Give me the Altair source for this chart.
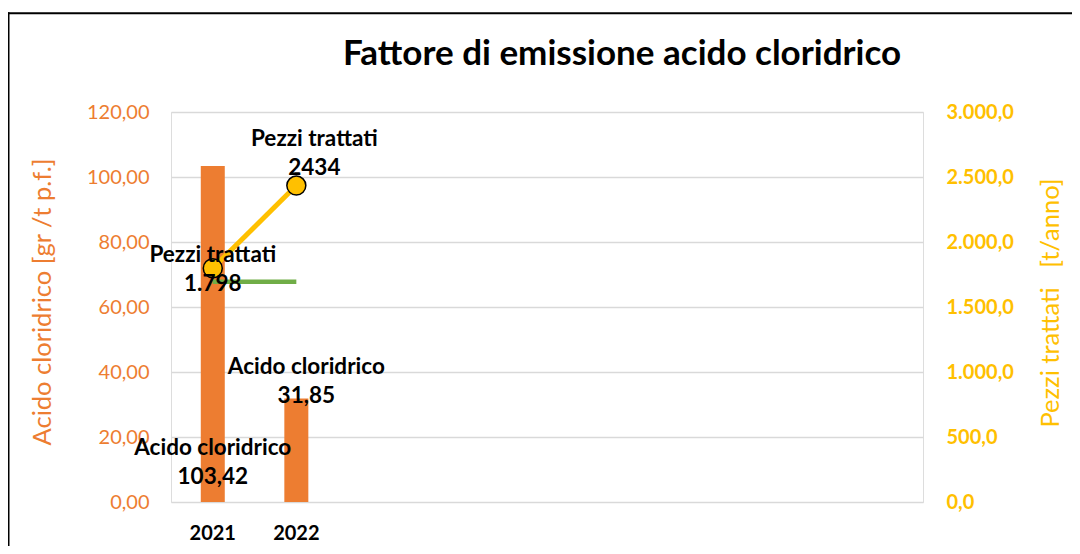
import altair as alt
import pandas as pd

# ---- data ----
years = ["2021", "2022"]
empty_slots = ["c3", "c4", "c5", "c6", "c7", "c8", "c9"]
acido = [103.42, 31.85]
acido_labels = ["103,42", "31,85"]
pezzi = [1798, 2434]
pezzi_labels = ["1.798", "2434"]
limite = [67.8, 67.8]
series_names = ["Acido cloridrico", "Pezzi trattati"]
left_ticks = [0, 20, 40, 60, 80, 100, 120]
right_ticks = [0, 500, 1000, 1500, 2000, 2500, 3000]

df = pd.DataFrame({
    "year": years,
    "acido": acido,
    "acido_text": [series_names[0] + "\n" + s for s in acido_labels],
    "pezzi": pezzi,
    "pezzi_text": [series_names[1] + "\n" + s for s in pezzi_labels],
    "limite": limite,
})

ORANGE = "#ED7D31"
YELLOW = "#FFC000"
GREEN = "#70AD47"
FONT = "Lato"

W, H = 752, 390

x_enc = alt.X(
    "year:N",
    scale=alt.Scale(domain=years + empty_slots, paddingInner=0, paddingOuter=0),
    axis=alt.Axis(
        labelExpr="indexof(datum.value, 'c') == 0 ? '' : datum.value",
        labelFontWeight="bold", labelFontSize=20, labelColor="black",
        labelFont=FONT, ticks=False, domain=False, grid=False,
        labelPadding=21, labelAngle=0,
    ),
    title=None,
)

left_scale = alt.Scale(domain=[0, 120])
right_scale = alt.Scale(domain=[0, 3000])

base = alt.Chart(df)

bars = base.mark_bar(color=ORANGE, size=24).encode(
    x=x_enc,
    y=alt.Y(
        "acido:Q", scale=left_scale,
        axis=alt.Axis(
            values=left_ticks, orient="left",
            labelExpr="replace(format(datum.value, '.2f'), '.', ',')",
            labelColor=ORANGE, labelFontSize=20, labelFont=FONT,
            labelPadding=22, ticks=False, domain=False,
            grid=True, gridColor="#D9D9D9", gridWidth=1.5,
            title="Acido cloridrico [gr /t p.f.]", titleColor=ORANGE,
            titleFontSize=25.5, titleFontWeight="normal", titleFont=FONT,
            titleAngle=270, titleX=-129, titleY=189.5,
            titleAlign="center", titleBaseline="middle",
        ),
    ),
)

green = base.mark_line(color=GREEN, strokeWidth=4.5).encode(
    x=x_enc, y=alt.Y("limite:Q", scale=left_scale)
)

txt_style = dict(font=FONT, fontSize=22.5, fontWeight="bold", color="black",
                 lineBreak="\n", lineHeight=29, align="center", baseline="middle")

acido_lbl_2021 = base.transform_filter(alt.datum.year == "2021").mark_text(
    dy=-54, **txt_style
).encode(x=x_enc, y=alt.datum(0), text="acido_text:N")

acido_lbl_2022 = base.transform_filter(alt.datum.year == "2022").mark_text(
    dx=10, dy=-31.5, **txt_style
).encode(x=x_enc, y=alt.Y("acido:Q", scale=left_scale), text="acido_text:N")

frame_data = alt.Data(values=[{"f": 1}])
frame_left = alt.Chart(frame_data).mark_rule(color="black", strokeWidth=2).encode(
    x=alt.value(-162.5), y=alt.value(-99.7), y2=alt.value(H + 60)
)
frame_top = alt.Chart(frame_data).mark_rule(color="black", strokeWidth=2).encode(
    x=alt.value(-163.5), x2=alt.value(W + 160), y=alt.value(-98.7)
)

left_layer = alt.layer(bars, green, acido_lbl_2021, acido_lbl_2022, frame_left, frame_top)

yellow_line = base.mark_line(color=YELLOW, strokeWidth=5).encode(
    x=x_enc,
    y=alt.Y(
        "pezzi:Q", scale=right_scale,
        axis=alt.Axis(
            values=right_ticks, orient="right",
            labelExpr="replace(replace(replace(format(datum.value, ',.1f'), ',', '#'), '.', ','), '#', '.')",
            labelColor=YELLOW, labelFontSize=20, labelFont=FONT, labelFontWeight="bold",
            labelPadding=23, ticks=False, domain=False, grid=False,
            title="Pezzi trattati\u00a0\u00a0\u00a0[t/anno]", titleColor=YELLOW,
            titleFontSize=25.5, titleFontWeight="normal", titleFont=FONT,
            titleAngle=270, titleX=127, titleY=190.5,
            titleAlign="center", titleBaseline="middle",
        ),
    ),
)

yellow_pts = base.mark_point(
    shape="circle", filled=True, fill=YELLOW, stroke="black", strokeWidth=1.5,
    size=360, opacity=1
).encode(x=x_enc, y=alt.Y("pezzi:Q", scale=right_scale))

pezzi_lbl_2021 = base.transform_filter(alt.datum.year == "2021").mark_text(
    dy=-13.3, **txt_style
).encode(x=x_enc, y=alt.Y("pezzi:Q", scale=right_scale), text="pezzi_text:N")

pezzi_lbl_2022 = base.transform_filter(alt.datum.year == "2022").mark_text(
    dx=18, dy=-46.6, **txt_style
).encode(x=x_enc, y=alt.Y("pezzi:Q", scale=right_scale), text="pezzi_text:N")

right_layer = alt.layer(yellow_line, yellow_pts, pezzi_lbl_2021, pezzi_lbl_2022)

chart = alt.layer(left_layer, right_layer).resolve_scale(y="independent").properties(
    width=W, height=H,
    title=alt.TitleParams(
        "Fattore di emissione acido cloridrico",
        font=FONT, fontSize=35, fontWeight="bold", color="black",
        anchor="middle", dx=75, offset=-89, frame="group", baseline="alphabetic",
    ),
    autosize=alt.AutoSizeParams(type="none"),
    padding={"left": 163, "top": 104, "right": 149, "bottom": 44},
).configure_view(strokeWidth=0).configure(font=FONT)

chart.save("out.html", embed_options={"renderer": "svg", "actions": False})
